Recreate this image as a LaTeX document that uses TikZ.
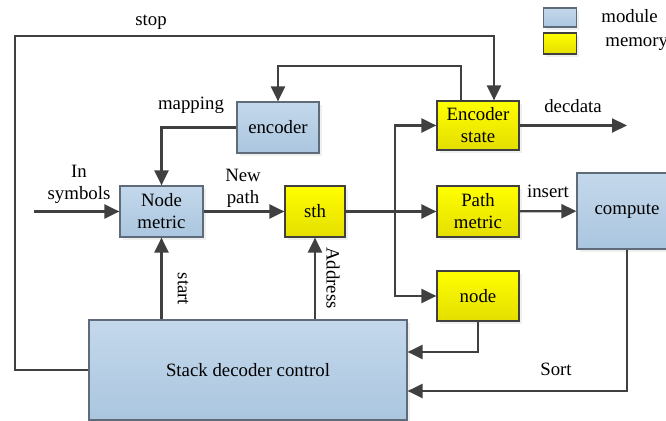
\documentclass[tikz,border=0pt]{standalone}
\usepackage{fontspec}
\setmainfont{Liberation Serif}
\usetikzlibrary{arrows.meta,shadows}
\definecolor{trait}{HTML}{404040}
\definecolor{bleuhaut}{HTML}{C4D8EB}
\definecolor{bleubas}{HTML}{AAC6DF}
\definecolor{bordbleu}{HTML}{5F6B78}
\definecolor{jaunehaut}{HTML}{FFFF00}
\definecolor{jaunebas}{HTML}{E4DE00}
\begin{document}
\begin{tikzpicture}[x=0.5pt,y=-0.5pt,
    every node/.style={font=\fontsize{9.4}{11}\selectfont, inner sep=1pt},
    module/.style={draw=bordbleu, line width=0.6pt, top color=bleuhaut, bottom color=bleubas,
        align=center, drop shadow={shadow xshift=1.4pt, shadow yshift=-1.4pt, fill=black!12}},
    memoire/.style={draw=trait, line width=0.6pt, top color=jaunehaut, bottom color=jaunebas,
        align=center, drop shadow={shadow xshift=1.4pt, shadow yshift=-1.4pt, fill=black!12}},
    fl/.style={draw=trait, line width=1.1pt, -{Triangle[length=7.5pt,width=7pt]}},
    ligne/.style={draw=trait, line width=1.1pt}]
    \useasboundingbox (0,0) rectangle (666,421);
    % Blocs
    \node[module, minimum width=41.5pt, minimum height=25.5pt] (nm) at (161.5,211.5) {Node\\metric};
    \node[module, minimum width=41pt, minimum height=25.5pt] (enc) at (278,127.5) {encoder};
    \node[memoire, minimum width=30pt, minimum height=25.5pt] (sth) at (315,211.5) {sth};
    \node[memoire, minimum width=41pt, minimum height=24.5pt] (es) at (478,125.5) {Encoder\\state};
    \node[memoire, minimum width=41pt, minimum height=25.5pt] (pm) at (478,211.5) {Path\\metric};
    \node[memoire, minimum width=41pt, minimum height=25pt] (nd) at (478,296) {node};
    \node[module, minimum width=50pt, minimum height=38pt] (comp) at (627,211) {compute};
    \node[module, minimum width=159pt, minimum height=50pt] (ctrl) at (248,370) {Stack decoder control};
    % Legende
    \node[module, minimum width=16.5pt, minimum height=9.5pt] (legmod) at (560,17.5) {};
    \node[memoire, minimum width=16.5pt, minimum height=10.5pt] (legmem) at (560,43.5) {};
    \node[anchor=west] (txtmod) at (599,16) {module};
    \node[anchor=west] (txtmem) at (603,44) {memory};
    % Points de passage
    \coordinate (entree) at (34,211.5);
    \coordinate (bif) at (395,211.5);
    \coordinate (sortie) at (627,125.5);
    \coordinate (gauche) at (15,36);
    \coordinate (stopx) at (494,36);
    \coordinate (retour) at (461,66);
    % Liaisons
    \draw[fl] (entree) -- (nm);
    \draw[fl] (nm) -- (sth);
    \draw[fl] (enc.west) -| (nm.north);
    \draw[fl] (es.north -| retour) -- (retour) -| (enc.north);
    \draw[fl] (ctrl.west) -| (gauche) -- (stopx) -- (es.north -| stopx);
    \draw[ligne] (sth.east) -- (bif);
    \draw[fl] (bif) |- (es.west);
    \draw[fl] (bif) -- (pm.west);
    \draw[fl] (bif) |- (nd.west);
    \draw[fl] (es.east) -- (sortie);
    \draw[fl] (pm) -- (comp);
    \draw[fl] (ctrl.north -| nm) -- (nm.south);
    \draw[fl] (ctrl.north -| sth) -- (sth.south);
    \draw[fl] (nd.south) |- ([yshift=9pt]ctrl.east);
    \draw[fl] (comp.south) |- ([yshift=-10.5pt]ctrl.east);
    % Etiquettes
    \node (lstop) at (151,22) {stop};
    \node (lmap) at (191,105) {mapping};
    \node (ldec) at (573,106) {decdata};
    \node[align=center] (lin) at (79,184) {In\\symbols};
    \node[align=center] (lnew) at (243,188) {New\\path};
    \node (lins) at (548,191) {insert};
    \node[rotate=-90] (lstart) at (183,289) {start};
    \node[rotate=-90] (laddr) at (333,278) {Address};
    \node (lsort) at (556,369) {Sort};
\end{tikzpicture}
\end{document}
